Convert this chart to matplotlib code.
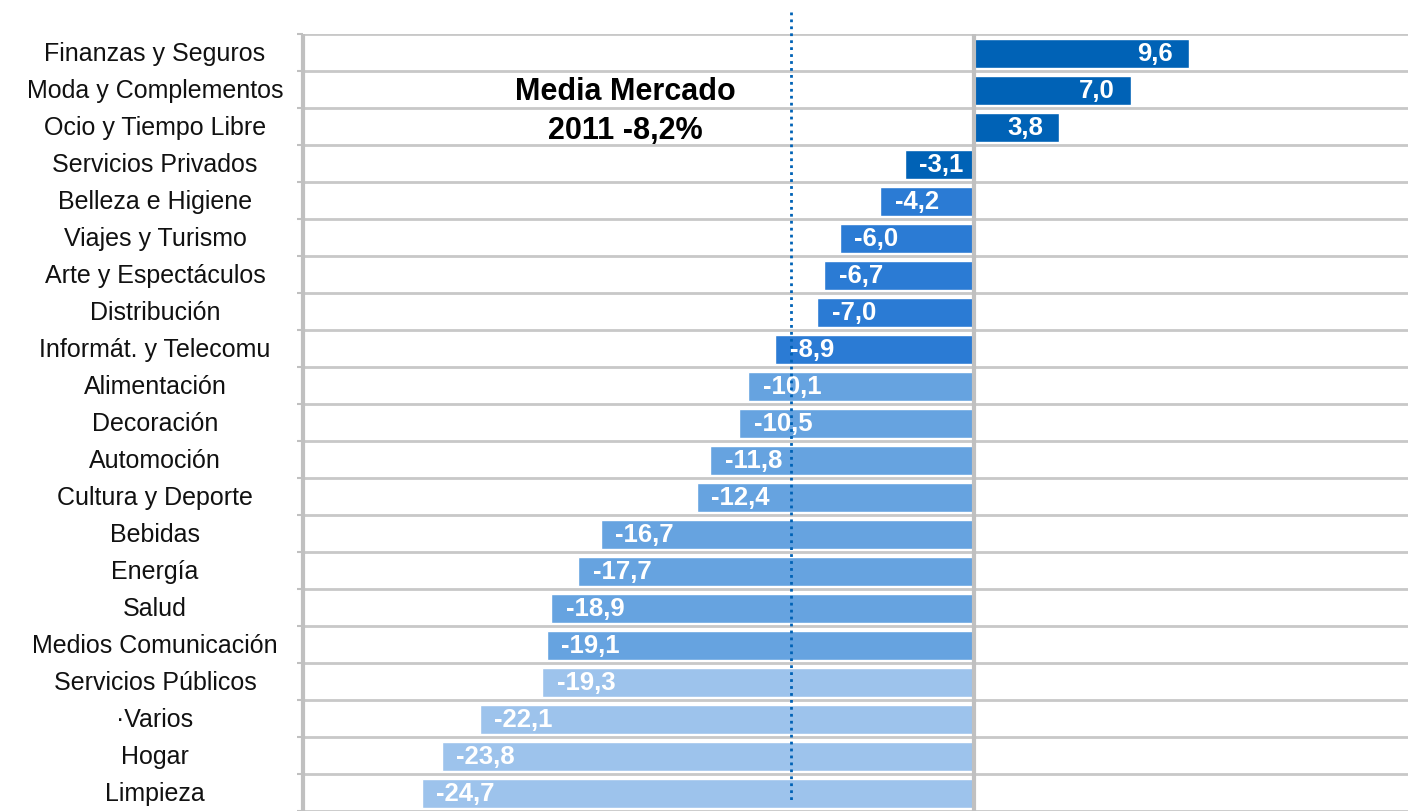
import matplotlib
matplotlib.use("Agg")
import matplotlib.pyplot as plt
import matplotlib.transforms as mtransforms

categories = ["Finanzas y Seguros", "Moda y Complementos", "Ocio y Tiempo Libre",
              "Servicios Privados", "Belleza e Higiene", "Viajes y Turismo",
              "Arte y Espectáculos", "Distribución", "Informát. y Telecomu",
              "Alimentación", "Decoración", "Automoción", "Cultura y Deporte",
              "Bebidas", "Energía", "Salud", "Medios Comunicación",
              "Servicios Públicos", "·Varios", "Hogar", "Limpieza"]
values = [9.6, 7.0, 3.8, -3.1, -4.2, -6.0, -6.7, -7.0, -8.9, -10.1, -10.5,
          -11.8, -12.4, -16.7, -17.7, -18.9, -19.1, -19.3, -22.1, -23.8, -24.7]
groups = [0, 0, 0, 0, 1, 1, 1, 1, 1, 2, 2, 2, 2, 2, 2, 2, 2, 3, 3, 3, 3]
group_colors = ["#0062B6", "#2B7BD4", "#66A3E0", "#9DC3EC"]
market_mean = -8.2
annotation = "Media Mercado\n2011 -8,2%"

plt.rcParams['font.family'] = ['Liberation Sans', 'DejaVu Sans']

fig = plt.figure(figsize=(14.08, 8.11), dpi=100)
ax = fig.add_axes([303/1408, 0, 1 - 303/1408, 1 - 34/811])

n = len(categories)
ypos = list(range(n))
colors = [group_colors[g] for g in groups]
ax.barh([y + 0.03 for y in ypos], values, height=0.78, color=colors,
        edgecolor="white", linewidth=1, zorder=3)

ax.set_xlim(-30, 19.4)
ax.set_ylim(-0.5 + 777/37.2, -0.5)

# gridlines between rows
for b in range(n + 1):
    ax.axhline(b - 0.5, color="#C8C8C8", linewidth=2, zorder=1)

ax.axvline(0, color="#C0C0C0", linewidth=3, zorder=4)

for s in ax.spines.values():
    s.set_visible(False)
ax.plot([0, 0], [0, 1], transform=ax.transAxes, color="#C0C0C0", linewidth=3,
        clip_on=False, zorder=5, solid_capstyle="butt")

ax.set_xticks([])
ax.set_yticks([b - 0.5 for b in range(n + 1)])
ax.set_yticklabels([])
ax.tick_params(axis="y", length=4, width=1.5, color="#C0C0C0")

# category labels centered in left column
trans = mtransforms.blended_transform_factory(fig.transFigure, ax.transData)
for y, c in zip(ypos, categories):
    ax.text(155/1408, y + 0.05, c, transform=trans, ha="center", va="center",
            fontsize=18, color="#111111")

# value labels
for y, v in zip(ypos, values):
    lab = f"{v:.1f}".replace(".", ",")
    if v >= 0:
        ax.text(v - 0.7, y + 0.05, lab, ha="right", va="center", color="white",
                fontsize=18.5, fontweight="bold", zorder=6)
    else:
        ax.text(v + 0.65, y + 0.05, lab, ha="left", va="center", color="white",
                fontsize=18.5, fontweight="bold", zorder=6)

# market mean dotted line
ax.plot([market_mean, market_mean], [-1.1, 20.2], color="#0062B6", linewidth=2,
        linestyle=(0, (1, 1.5)), clip_on=False, zorder=7)

ax.text(-15.6, 1.6, annotation, ha="center", va="center", fontsize=22,
        fontweight="bold", color="black", linespacing=1.4, zorder=8)

fig.savefig("out.png", dpi=100)
